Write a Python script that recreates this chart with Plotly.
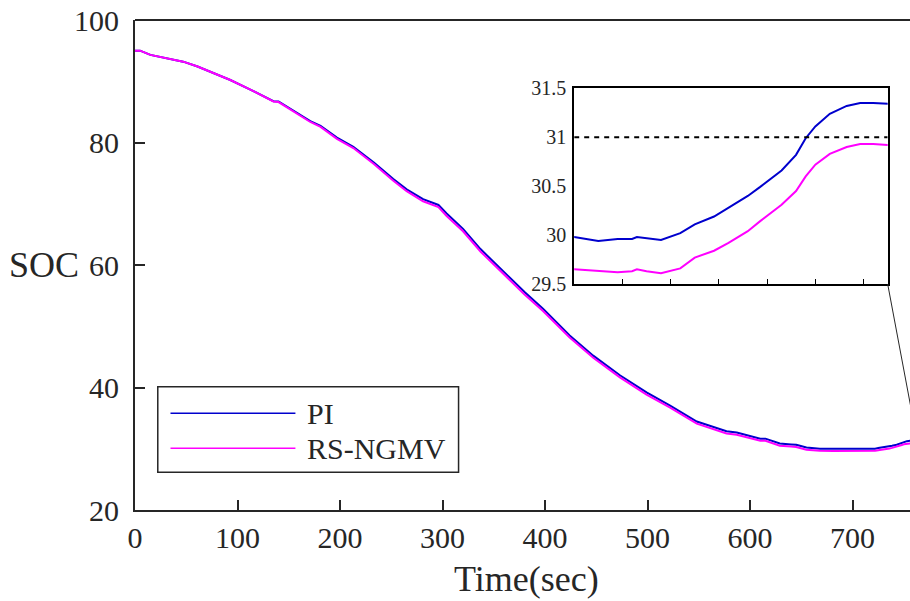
import plotly.graph_objects as go

# Simulation time (s) and state of charge (%) for the two controllers
time_s = [0, 5, 15, 28, 47, 61, 75, 93, 113, 125,
          135, 140, 158, 171, 181, 197, 213, 233, 252, 265,
          281, 296, 304, 320, 337, 355, 363, 380, 398, 424,
          447, 473, 499, 522, 548, 565, 577, 587, 600, 610,
          615, 629, 640, 645, 655, 668, 681, 690, 700, 705,
          709, 712, 713, 715, 718, 722, 725, 729, 732, 736,
          738.5, 743, 746, 748, 750, 753, 756.5, 759.3, 762, 765, 770]

soc_pi = [95.0, 95.0, 94.3, 93.85, 93.2, 92.4, 91.4, 90.2, 88.6, 87.6,
          86.75, 86.7, 84.85, 83.5, 82.7, 80.8, 79.3, 76.75, 74.05, 72.35,
          70.75, 69.8, 68.4, 65.9, 62.6, 59.7, 58.3, 55.6, 52.85, 48.5,
          45.2, 42.0, 39.2, 37.05, 34.45, 33.55, 32.85, 32.65, 32.15, 31.65,
          31.65, 30.85, 30.7, 30.65, 30.2, 30.0, 29.98, 29.97, 29.98, 29.94,
          29.96, 29.96, 29.98, 29.97, 29.95, 30.02, 30.11, 30.19, 30.28, 30.40,
          30.49, 30.66, 30.82, 30.99, 31.11, 31.24, 31.32, 31.35, 31.35, 31.34, 31.33]

soc_rsngmv = [95.0, 95.0, 94.3, 93.85, 93.2, 92.4, 91.4, 90.2, 88.6, 87.55,
              86.7, 86.6, 84.75, 83.35, 82.55, 80.6, 79.1, 76.5, 73.75, 72.05,
              70.4, 69.45, 68.0, 65.5, 62.2, 59.3, 57.9, 55.2, 52.5, 48.15,
              44.85, 41.65, 38.85, 36.7, 34.1, 33.2, 32.5, 32.3, 31.8, 31.3,
              31.3, 30.5, 30.35, 30.3, 29.85, 29.66, 29.64, 29.63, 29.65, 29.63,
              29.62, 29.63, 29.65, 29.63, 29.61, 29.66, 29.77, 29.84, 29.92, 30.04,
              30.14, 30.31, 30.45, 30.6, 30.72, 30.83, 30.90, 30.93, 30.93, 30.92, 30.91]

series_names = ["PI", "RS-NGMV"]
series_colors = ["#0000CD", "#FF00FF"]

# Axis settings
main_xrange = [0, 756]
main_yrange = [20, 100]
main_xticks = [0, 100, 200, 300, 400, 500, 600, 700]
main_yticks = [20, 40, 60, 80, 100]

zoom_xrange = [700, 765]
zoom_yrange = [29.5, 31.5]
zoom_xticks = [710, 720, 730, 740, 750, 760]
zoom_yticks = [29.5, 30, 30.5, 31, 31.5]
zoom_ylabels = ["29.5", "30", "30.5", "31", "31.5"]
soc_limit = 31

FONT = "Liberation Serif"
AX = "#262626"

W, H = 910, 601
ML, MR, MT, MB = 134.5, 0, 20, 91

fig = go.Figure()

for y, name, col in zip([soc_pi, soc_rsngmv], series_names, series_colors):
    fig.add_trace(go.Scatter(x=time_s, y=y, mode="lines", name=name,
                             line=dict(color=col, width=2),
                             xaxis="x", yaxis="y", showlegend=False))
for y, name, col in zip([soc_pi, soc_rsngmv], series_names, series_colors):
    fig.add_trace(go.Scatter(x=time_s, y=y, mode="lines", name=name,
                             line=dict(color=col, width=2),
                             xaxis="x2", yaxis="y2", showlegend=False))

# SOC limit line inside the zoom panel
fig.add_trace(go.Scatter(x=zoom_xrange, y=[soc_limit, soc_limit], mode="lines",
                         line=dict(color="black", width=2, dash="5px,5px"),
                         xaxis="x2", yaxis="y2", showlegend=False, hoverinfo="skip"))

inset_x = [0.5667, 0.9712]
inset_y = [0.4612, 0.8606]

fig.update_layout(
    width=W, height=H,
    margin=dict(l=ML, r=MR, t=MT, b=MB, pad=0),
    paper_bgcolor="white", plot_bgcolor="white",
    font=dict(family=FONT, color=AX),
    xaxis=dict(domain=[0, 1], range=main_xrange, tickvals=main_xticks,
               ticks="inside", ticklen=10, tickwidth=1.5, tickcolor=AX,
               showline=True, linecolor=AX, linewidth=2, showgrid=False,
               zeroline=False, tickfont=dict(size=30, family=FONT, color=AX),
               ticklabelstandoff=0, anchor="y"),
    yaxis=dict(domain=[0, 1], range=main_yrange, tickvals=main_yticks,
               ticks="inside", ticklen=10, tickwidth=1.5, tickcolor=AX,
               showline=True, linecolor=AX, linewidth=2, showgrid=False,
               zeroline=False, tickfont=dict(size=30, family=FONT, color=AX),
               ticklabelstandoff=8, anchor="x"),
    xaxis2=dict(domain=inset_x, range=zoom_xrange, tickvals=zoom_xticks,
                showticklabels=False, ticks="inside", ticklen=5, tickwidth=1,
                tickcolor="black", showline=True, mirror=True, linecolor="black",
                linewidth=2, showgrid=False, zeroline=False, anchor="y2"),
    yaxis2=dict(domain=inset_y, range=zoom_yrange, tickvals=zoom_yticks,
                ticktext=zoom_ylabels, ticks="", showline=True, mirror=True,
                linecolor="black", linewidth=2, showgrid=False, zeroline=False,
                tickfont=dict(size=20, family=FONT, color=AX),
                ticklabelstandoff=2, anchor="x2"),
    showlegend=False,
)

shapes = []
# top border of the main axes
shapes.append(dict(type="line", xref="paper", yref="paper", x0=0, x1=1, y0=1, y1=1,
                   line=dict(color=AX, width=2)))

# connector from the zoom panel to the zoomed region corner
def to_paper_x(v):
    return (v - main_xrange[0]) / (main_xrange[1] - main_xrange[0])

def to_paper_y(v):
    return (v - main_yrange[0]) / (main_yrange[1] - main_yrange[0])

shapes.append(dict(type="line", xref="paper", yref="paper",
                   x0=inset_x[1], y0=inset_y[0],
                   x1=to_paper_x(zoom_xrange[1]), y1=to_paper_y(zoom_yrange[0]),
                   line=dict(color=AX, width=1)))

# legend box
leg_x0, leg_x1 = 0.0294, 0.4175
leg_y0, leg_y1 = 0.0769, 0.2516
shapes.append(dict(type="rect", xref="paper", yref="paper",
                   x0=leg_x0, x1=leg_x1, y0=leg_y0, y1=leg_y1,
                   line=dict(color=AX, width=1.5), fillcolor="white", layer="above"))
leg_rows = [0.1973, 0.1259]
for ry, col in zip(leg_rows, series_colors):
    shapes.append(dict(type="line", xref="paper", yref="paper",
                       x0=0.0458, x1=0.2070, y0=ry, y1=ry,
                       line=dict(color=col, width=1.5), layer="above"))

annotations = []
for ry, name in zip(leg_rows, series_names):
    annotations.append(dict(text=name, xref="paper", yref="paper", x=0.2199, y=ry,
                            xanchor="left", yanchor="middle", showarrow=False,
                            font=dict(size=30, family=FONT, color=AX)))

annotations.append(dict(text="SOC", xref="paper", yref="paper", x=-0.0703, y=0.5,
                        xanchor="right", yanchor="middle", showarrow=False,
                        font=dict(size=36, family=FONT, color=AX)))
annotations.append(dict(text="Time(sec)", xref="paper", yref="paper", x=0.5055, y=-0.14,
                        xanchor="center", yanchor="middle", showarrow=False,
                        font=dict(size=36, family=FONT, color=AX)))

fig.update_layout(shapes=shapes, annotations=annotations)

fig.write_html("out.html")
